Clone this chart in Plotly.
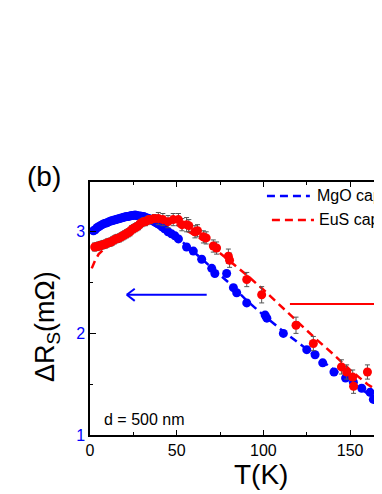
import plotly.graph_objects as go

# MgO capped (blue)
mgo_T = [2, 3, 4, 5, 6, 7, 8, 9, 10, 11, 12, 13, 14, 15, 16, 17, 18, 19, 20, 21,
         22, 23, 24, 25, 26, 27, 28, 29, 30, 31, 32, 33, 34, 35, 36, 37, 38, 39, 40,
         41.5, 43, 45, 47, 49, 51, 55.7, 59.6, 64.4, 70.2, 72, 78.8, 82.7, 84.6,
         90.4, 101, 102, 111.5, 125, 129.8, 134.2, 140.7, 147.4, 151.9, 156.7,
         161.5, 163.4, 168]
mgo_R = [3.01, 3.02, 3.04, 3.05, 3.06, 3.07, 3.08, 3.085, 3.09, 3.10, 3.105, 3.11,
         3.115, 3.12, 3.125, 3.13, 3.135, 3.14, 3.145, 3.15, 3.15, 3.155, 3.16, 3.16,
         3.165, 3.16, 3.155, 3.155, 3.15, 3.15, 3.14, 3.135, 3.13, 3.12, 3.11, 3.10,
         3.09, 3.08, 3.07, 3.05, 3.03, 3.00, 2.98, 2.96, 2.93, 2.85, 2.81, 2.73,
         2.64, 2.59, 2.59, 2.45, 2.40, 2.30, 2.18, 2.15, 2.00, 1.84, 1.79, 1.71,
         1.62, 1.56, 1.52, 1.46, 1.42, 1.35, 1.30]
mgo_err = [0.03] * len(mgo_T)

# EuS capped (red)
eus_T = [2.7, 4, 5, 6, 7, 8, 9, 10, 11, 12, 13, 14, 15, 16, 17, 18, 19, 20, 21, 22,
         23, 24, 25, 26, 27, 28, 29, 30, 31, 32, 33, 34, 35, 37, 39.4, 42, 45, 48,
         51, 53, 55.7, 57, 60.5, 62, 65.4, 67, 71.1, 73, 79.8, 80.5, 90.4, 99,
         118.8, 128.8, 145, 148, 151.5, 152, 160, 168]
eus_R = [2.85, 2.855, 2.86, 2.865, 2.87, 2.875, 2.88, 2.89, 2.895, 2.90, 2.91, 2.92,
         2.93, 2.935, 2.94, 2.95, 2.96, 2.97, 2.98, 2.99, 3.00, 3.02, 3.03, 3.04,
         3.05, 3.06, 3.08, 3.09, 3.10, 3.10, 3.11, 3.12, 3.12, 3.13, 3.13, 3.12,
         3.10, 3.12, 3.12, 3.07, 3.07, 3.06, 3.00, 3.01, 2.95, 2.94, 2.86, 2.84,
         2.76, 2.72, 2.53, 2.38, 2.08, 1.90, 1.67, 1.62, 1.57, 1.48, 1.62, 1.41]
eus_err = [0.04] * 34 + [0.06, 0.06, 0.06, 0.06, 0.06, 0.06, 0.07, 0.06, 0.06, 0.06,
                         0.06, 0.06, 0.06, 0.06, 0.07, 0.07, 0.07, 0.08, 0.08, 0.07,
                         0.07, 0.07, 0.07, 0.07, 0.07, 0.07]

# fits (dashed)
fit_mgo_T = [0, 10, 20, 25, 30, 40, 50, 60, 70, 80, 90, 100, 110, 120, 130, 140, 150, 160, 170]
fit_mgo_R = [3.00, 3.09, 3.14, 3.16, 3.15, 3.07, 2.95, 2.80, 2.65, 2.50, 2.33, 2.18,
             2.04, 1.91, 1.78, 1.65, 1.53, 1.41, 1.30]
fit_eus_T = [1, 3, 5, 10, 15, 20, 25, 30, 35, 40, 45, 50, 55, 60, 65, 70, 80, 90, 100,
             110, 120, 130, 140, 150, 160, 170]
fit_eus_R = [2.64, 2.72, 2.78, 2.86, 2.92, 2.97, 3.02, 3.07, 3.10, 3.11, 3.10, 3.07,
             3.02, 2.97, 2.92, 2.86, 2.72, 2.58, 2.43, 2.27, 2.11, 1.95, 1.80, 1.64,
             1.50, 1.39]

x_ticks = [0, 50, 100, 150]
y_ticks = [1, 2, 3]

BLUE = "#0000ff"
RED = "#ff0000"
FONT = "Liberation Sans, Arial, sans-serif"

fig = go.Figure()
fig.add_trace(go.Scatter(x=fit_mgo_T, y=fit_mgo_R, mode="lines",
                         line=dict(color=BLUE, width=2.5, dash="8px,5px"), showlegend=False))
fig.add_trace(go.Scatter(x=fit_eus_T, y=fit_eus_R, mode="lines",
                         line=dict(color=RED, width=2.5, dash="8px,5px"), showlegend=False))
fig.add_trace(go.Scatter(x=mgo_T, y=mgo_R, mode="markers",
                         marker=dict(color=BLUE, size=9),
                         error_y=dict(type="data", array=mgo_err, color="#555555",
                                      thickness=1, width=2.5),
                         showlegend=False))
fig.add_trace(go.Scatter(x=eus_T, y=eus_R, mode="markers",
                         marker=dict(color=RED, size=9),
                         error_y=dict(type="data", array=eus_err, color="#555555",
                                      thickness=1, width=2.5),
                         showlegend=False))

# arrows
arrow_R_blue = 2.38
arrow_R_red = 2.29
fig.add_shape(type="line", x0=67.3, x1=21.2, y0=arrow_R_blue, y1=arrow_R_blue,
              xref="x", yref="y", line=dict(color=BLUE, width=2))
fig.add_shape(type="line", x0=21.2, x1=25.8, y0=arrow_R_blue, y1=arrow_R_blue + 0.06,
              xref="x", yref="y", line=dict(color=BLUE, width=2))
fig.add_shape(type="line", x0=21.2, x1=25.8, y0=arrow_R_blue, y1=arrow_R_blue - 0.06,
              xref="x", yref="y", line=dict(color=BLUE, width=2))
fig.add_shape(type="line", x0=115.3, x1=168.4, y0=arrow_R_red, y1=arrow_R_red,
              xref="x", yref="y", line=dict(color=RED, width=2))

# manual legend
fig.add_shape(type="line", xref="paper", yref="paper", x0=0.606, x1=0.753, y0=0.945, y1=0.945,
              line=dict(color=BLUE, width=2.5, dash="8px,5px"))
fig.add_shape(type="line", xref="paper", yref="paper", x0=0.623, x1=0.767, y0=0.850, y1=0.850,
              line=dict(color=RED, width=2.5, dash="8px,5px"))
fig.add_annotation(text="MgO capped", xref="paper", yref="paper", x=0.771, y=0.945,
                   xanchor="left", yanchor="middle", showarrow=False,
                   font=dict(family=FONT, size=16, color="black"))
fig.add_annotation(text="EuS capped", xref="paper", yref="paper", x=0.777, y=0.850,
                   xanchor="left", yanchor="middle", showarrow=False,
                   font=dict(family=FONT, size=16, color="black"))

fig.add_annotation(text="d = 500 nm", xref="paper", yref="paper", x=0.041, y=0.063,
                   xanchor="left", yanchor="middle", showarrow=False,
                   font=dict(family=FONT, size=16, color="black"))
fig.add_annotation(text="(b)", xref="paper", yref="paper", x=-0.158, y=1.020,
                   xanchor="center", yanchor="middle", showarrow=False,
                   font=dict(family=FONT, size=28, color="black"))
fig.add_annotation(text="T(K)", xref="paper", yref="paper", x=0.586, y=-0.158,
                   xanchor="center", yanchor="middle", showarrow=False,
                   font=dict(family=FONT, size=28, color="black"))
fig.add_annotation(text="ΔR<sub>S</sub>(mΩ)", xref="paper", yref="paper", x=-0.147, y=0.427,
                   xanchor="center", yanchor="middle", showarrow=False, textangle=-90,
                   font=dict(family=FONT, size=27, color="black"))

# page body has an 8px margin, so the figure is sized to fill the rest of the window
fig.update_layout(
    width=374, height=486,
    margin=dict(l=82, r=0, t=174, b=59),
    paper_bgcolor="white", plot_bgcolor="white",
    font=dict(family=FONT),
    showlegend=False,
)
fig.update_xaxes(range=[0, 168.4], tickvals=x_ticks, ticktext=[str(v) for v in x_ticks],
                 ticks="inside", ticklen=5, tickwidth=1, tickcolor="black",
                 minor=dict(dtick=25, ticks="inside", ticklen=3, tickcolor="black"),
                 showline=True, linecolor="black", linewidth=1.5, mirror="ticks",
                 showgrid=False, zeroline=False,
                 tickfont=dict(family=FONT, size=16, color="black"))
fig.update_yaxes(range=[1, 3.49], tickvals=y_ticks, ticktext=[str(v) for v in y_ticks],
                 ticks="inside", ticklen=6, tickwidth=1, tickcolor="black",
                 minor=dict(dtick=0.5, ticks="inside", ticklen=3, tickcolor="black"),
                 showline=True, linecolor="black", linewidth=1.5, mirror=False,
                 showgrid=False, zeroline=False,
                 tickfont=dict(family=FONT, size=16, color=BLUE))

fig.write_html("out.html")
